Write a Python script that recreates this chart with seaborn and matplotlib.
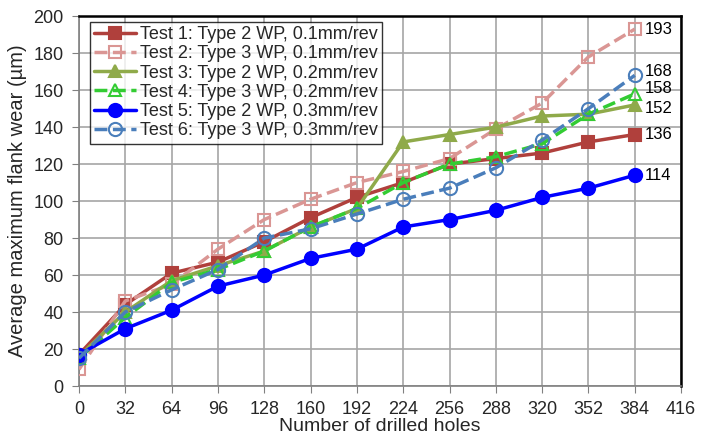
import matplotlib
matplotlib.use("Agg")
import matplotlib.pyplot as plt
import seaborn as sns
import pandas as pd

holes = [0, 32, 64, 96, 128, 160, 192, 224, 256, 288, 320, 352, 384]
test1 = [17, 44, 61, 67, 78, 91, 102, 110, 120, 123, 126, 132, 136]
test2 = [9, 46, 55, 74, 90, 101, 110, 116, 123, 139, 153, 178, 193]
test3 = [16, 40, 57, 65, 73, 86, 96, 132, 136, 140, 146, 147, 152]
test4 = [15, 37, 56, 63, 73, 86, 96, 110, 120, 124, 131, 147, 158]
test5 = [17, 31, 41, 54, 60, 69, 74, 86, 90, 95, 102, 107, 114]
test6 = [15, 40, 52, 63, 80, 85, 93, 101, 107, 118, 133, 150, 168]
labels = ["Test 1: Type 2 WP, 0.1mm/rev", "Test 2: Type 3 WP, 0.1mm/rev",
          "Test 3: Type 2 WP, 0.2mm/rev", "Test 4: Type 3 WP, 0.2mm/rev",
          "Test 5: Type 2 WP, 0.3mm/rev", "Test 6: Type 3 WP, 0.3mm/rev"]
end_labels = ["136", "193", "152", "158", "114", "168"]
xticks = list(range(0, 417, 32))
yticks = list(range(0, 201, 20))

series = [test1, test2, test3, test4, test5, test6]
styles = [
    dict(color="#B0403C", marker="s", ls="-", fill=True),
    dict(color="#DA9694", marker="s", ls="--", fill=False),
    dict(color="#8FAA4A", marker="^", ls="-", fill=True),
    dict(color="#33CC33", marker="^", ls="--", fill=False),
    dict(color="#0000FF", marker="o", ls="-", fill=True),
    dict(color="#4A7EBB", marker="o", ls="--", fill=False),
]
end_offsets = [0, 0, -2, 3, 0, 2]

sns.set_style("white")
plt.rcParams['font.family'] = ['Liberation Sans', 'DejaVu Sans']

fig = plt.figure(figsize=(7.08, 4.37), dpi=100)
ax = fig.add_axes([0.1116, 0.1167, 0.962 - 0.1116, 0.963 - 0.1167])

for vals, lab, st in zip(series, labels, styles):
    df = pd.DataFrame({"x": holes, "y": vals})
    sns.lineplot(data=df, x="x", y="y", ax=ax, color=st["color"],
                 linestyle=st["ls"], linewidth=2.5, marker=st["marker"],
                 markersize=8.5 if st["marker"] != "o" else 9.5,
                 markerfacecolor=st["color"] if st["fill"] else "none",
                 markeredgecolor=st["color"], markeredgewidth=1.5,
                 label=lab, dashes=(4, 2.5) if st["ls"] == "--" else None,
                 zorder=3)

for vals, txt, off in zip(series, end_labels, end_offsets):
    ax.text(holes[-1] + 7, vals[-1] + off, txt, fontsize=12, va="center",
            ha="left", color="black")

ax.set_xlim(0, 416)
ax.set_ylim(0, 200)
ax.set_xticks(xticks)
ax.set_yticks(yticks)
ax.tick_params(axis="both", labelsize=13, length=5, direction="out",
               color="#808080", bottom=True, left=True, pad=6)
ax.grid(True, color="#A6A6A6", linewidth=1.2)
ax.set_axisbelow(True)
for side in ["left", "bottom"]:
    ax.spines[side].set_color("#808080")
    ax.spines[side].set_linewidth(1.2)
for side in ["top", "right"]:
    ax.spines[side].set_color("black")
    ax.spines[side].set_linewidth(1.8)
ax.set_xlabel("Number of drilled holes", fontsize=14, labelpad=0)
ax.set_ylabel("Average maximum flank wear (µm)", fontsize=14.5, labelpad=5)

leg = ax.legend(loc="upper left", bbox_to_anchor=(0.018, 0.985), fontsize=13,
                frameon=True, fancybox=False, edgecolor="black",
                handlelength=2.3, handletextpad=0.2, borderpad=0.25,
                labelspacing=0.12, borderaxespad=0)
leg.get_frame().set_linewidth(1.0)

fig.savefig("out.png", dpi=100)
